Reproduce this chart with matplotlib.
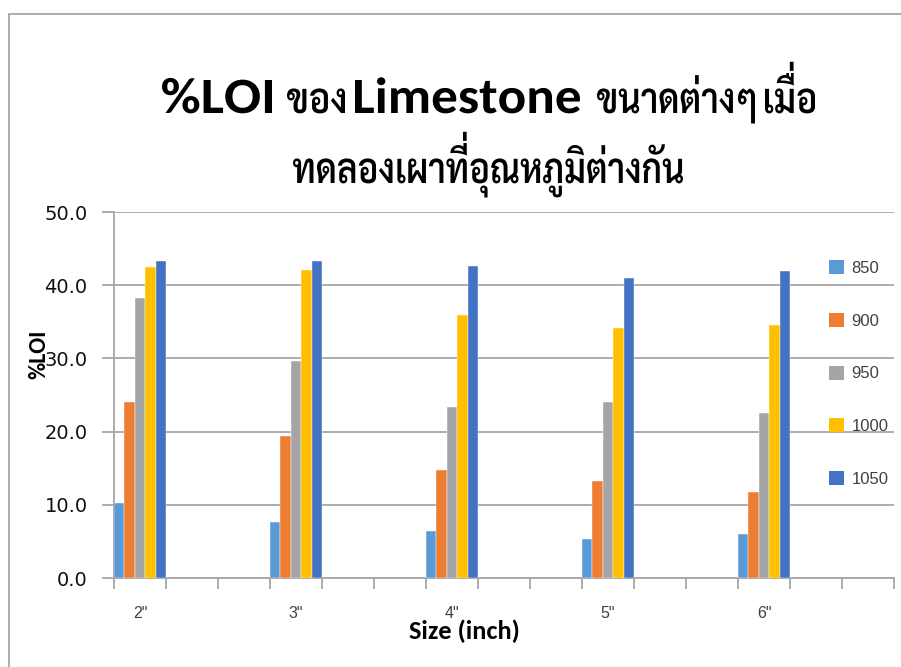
import matplotlib
matplotlib.use("Agg")
import matplotlib.pyplot as plt
import matplotlib.transforms as mtransforms
from matplotlib import font_manager
from matplotlib.font_manager import FontProperties
from matplotlib.patches import Rectangle, Patch, PathPatch
from matplotlib.path import Path
from matplotlib.textpath import TextPath
import numpy as np

# ---- data -------------------------------------------------------------
sizes = ['2"', '3"', '4"', '5"', '6"']
temperatures = ["850", "900", "950", "1000", "1050"]
loi_850 = [10.3, 7.6, 6.4, 5.3, 6.0]
loi_900 = [24.1, 19.4, 14.8, 13.3, 11.7]
loi_950 = [38.2, 29.6, 23.4, 24.0, 22.6]
loi_1000 = [42.5, 42.1, 35.9, 34.2, 34.6]
loi_1050 = [43.3, 43.3, 42.6, 41.0, 42.0]
series = [loi_850, loi_900, loi_950, loi_1000, loi_1050]
colors = ["#5B9BD5", "#ED7D31", "#A5A5A5", "#FFC000", "#4472C4"]

# title pieces: (text, script)
title_line1 = [("%LOI", "latin"), ("ของ", "thai"), ("Limestone", "latin"),
               ("ขนาดต่างๆ", "thai"), ("เมื่อ", "thai")]
title_line2 = [("ทดลองเผาที่อุณหภูมิต่างกัน", "thai")]
x_label = "Size (inch)"
y_label = "%LOI"

# ---- fonts ------------------------------------------------------------
available = {f.name for f in font_manager.fontManager.ttflist}


def first_font(*names):
    for n in names:
        if n in available:
            return n
    return "DejaVu Sans"


latin_font = first_font("Carlito", "Lato", "Open Sans")
thai_font = first_font("Sarabun", "Noto Sans Thai Looped", "Loma", "Noto Sans Thai")
legend_font = first_font("Liberation Sans", "Arimo")

# ---- Thai text as paths (stacks tone marks above upper vowels) --------
UPPER_VOWELS = set("\u0e31\u0e34\u0e35\u0e36\u0e37\u0e47")
TONE_MARKS = set("\u0e48\u0e49\u0e4a\u0e4b\u0e4c")


def _tail(prefix, ch, fp):
    p0 = TextPath((0, 0), prefix, size=100, prop=fp)
    p1 = TextPath((0, 0), prefix + ch, size=100, prop=fp)
    n = len(p0.vertices)
    return p1.vertices[n:].copy(), p1.codes[n:].copy()


def word_path(word, fp):
    base = ""
    extra_v, extra_c = [], []
    for k, ch in enumerate(word):
        if ch in TONE_MARKS and k > 0 and word[k - 1] in UPPER_VOWELS:
            prefix, vowel = base[:-1], base[-1]
            tv, tc = _tail(prefix, ch, fp)
            vv, vc = _tail(prefix, vowel, fp)
            vbox = Path(vv, vc).get_extents()
            tbox = Path(tv, tc).get_extents()
            tv[:, 1] += vbox.y1 - tbox.y0 + 5
            extra_v.append(tv)
            extra_c.append(tc)
        else:
            base += ch
    bp = TextPath((0, 0), base, size=100, prop=fp)
    verts = np.concatenate([bp.vertices] + extra_v)
    codes = np.concatenate([bp.codes] + extra_c)
    return Path(verts, codes)


def draw_word(fig, text, family, weight, x_left, width, baseline, ref_char, ref_h):
    fp = FontProperties(family=family, weight=weight)
    path = word_path(text, fp)
    ref = TextPath((0, 0), ref_char, size=100, prop=fp).get_extents()
    sy = ref_h / ref.height
    ext = path.get_extents()
    sx = width / ext.width
    tr = (mtransforms.Affine2D().translate(-ext.x0, 0).scale(sx, sy)
          .translate(x_left, fig.bbox.height - baseline))
    fig.add_artist(PathPatch(path, transform=tr, facecolor="black",
                             edgecolor="none", zorder=5))


# ---- layout -----------------------------------------------------------
W, H = 901, 667
fig = plt.figure(figsize=(W / 100, H / 100), dpi=100)
ax = fig.add_axes([114 / W, 1 - 578 / H, (894 - 114) / W, (578 - 212) / H])

# chart outline (runs past the right and bottom edges)
fig.patches.append(Rectangle((9 / W, -0.1), 1.2, 1 - 14 / H + 0.1,
                             transform=fig.transFigure, fill=False,
                             edgecolor="#a6a6a6", linewidth=1.3, zorder=0))

# 15 category slots; sizes sit on every third slot
n_slots = 15
group_pos = np.arange(len(sizes)) * 3
bar_w = 1.0 / len(temperatures)
for i, (vals, col, lab) in enumerate(zip(series, colors, temperatures)):
    offs = -0.5 + bar_w * (i + 0.5)
    ax.bar(group_pos + offs, vals, width=bar_w, color=col, label=lab,
           edgecolor="white", linewidth=0.3, zorder=3)

ax.set_xlim(-0.5, n_slots - 0.5)
ax.set_ylim(0, 50)

grid_col = "#a6a6a6"
yt = np.arange(0, 51, 10)
ax.set_yticks(yt)
ax.set_yticklabels([f"{v:.1f}" for v in yt], family="DejaVu Sans",
                   fontsize=14, color="#111111")
ax.yaxis.grid(True, color=grid_col, linewidth=1.3, zorder=0)
ax.tick_params(axis="y", length=9, width=1.3, color=grid_col, pad=10)

ax.set_xticks(group_pos)
ax.set_xticklabels(sizes, family=legend_font, fontsize=11.5, color="#404040")
ax.set_xticks(np.arange(-0.5, n_slots, 1), minor=True)
ax.tick_params(axis="x", which="major", length=0, pad=20)
ax.tick_params(axis="x", which="minor", length=8, width=1.3, color=grid_col)

for side in ("top", "right"):
    ax.spines[side].set_visible(False)
for side in ("left", "bottom"):
    ax.spines[side].set_color(grid_col)
    ax.spines[side].set_linewidth(1.3)
ax.set_axisbelow(True)

# axis titles
fig.text(39 / W, 1 - 354 / H, y_label, rotation=90, ha="center", va="center",
         family=latin_font, fontweight="bold", fontsize=17)
fig.text(464 / W, 1 - 631 / H, x_label, ha="center", va="center",
         family=latin_font, fontweight="bold", fontsize=19)

# chart title, two lines; each word is placed at its own width
line1_widths = [110, 58, 225, 158, 50]
line1_gaps = [15, 10, 17, 10]
x = 162
for (txt, script), w, gap in zip(title_line1, line1_widths, line1_gaps + [0]):
    if script == "latin":
        draw_word(fig, txt, latin_font, "bold", x, w, 113, "L", 33)
    else:
        draw_word(fig, txt, thai_font, "semibold", x, w, 113, "น", 25)
    x += w + gap
draw_word(fig, title_line2[0][0], thai_font, "semibold", 293, 390, 183, "น", 25)

# legend without frame; gridlines show through it
handles = [Patch(facecolor=c, label=t) for c, t in zip(colors, temperatures)]
fig.legend(handles=handles, loc="upper left",
           bbox_to_anchor=(829 / W, 1 - 260 / H), bbox_transform=fig.transFigure,
           frameon=False, borderpad=0, borderaxespad=0,
           handlelength=0.9, handleheight=0.9, handletextpad=0.45,
           labelspacing=2.23, prop={"family": legend_font, "size": 12},
           labelcolor="#404040")

fig.savefig("out.png", dpi=100)
